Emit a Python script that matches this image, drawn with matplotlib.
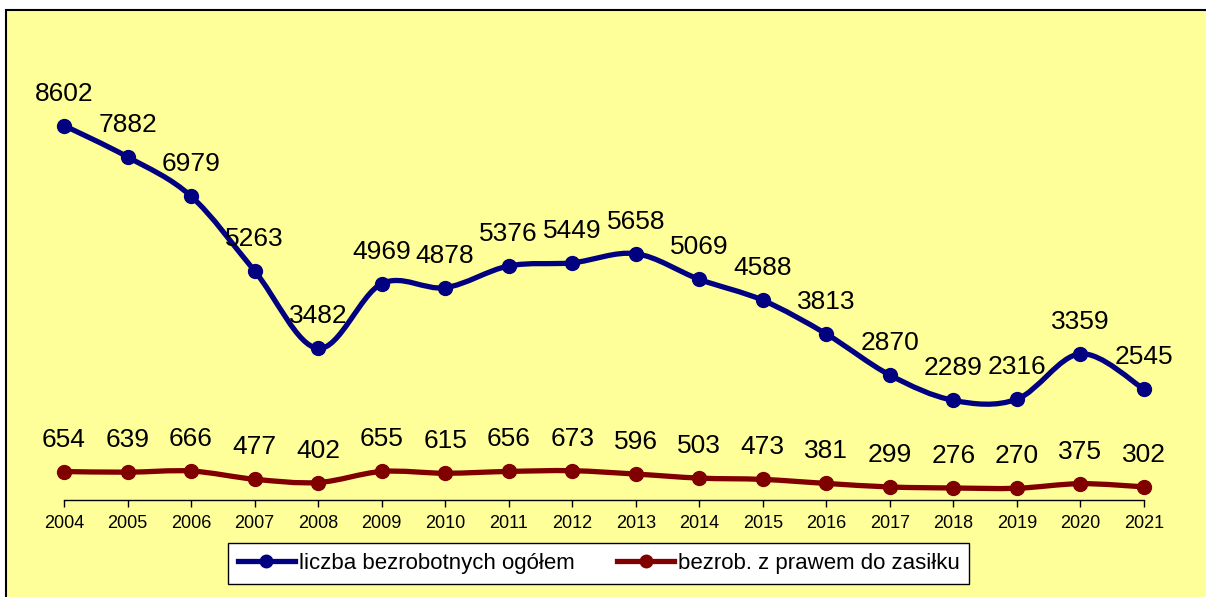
import numpy as np
import matplotlib.pyplot as plt
from matplotlib.path import Path
from matplotlib.patches import PathPatch, Rectangle
from matplotlib.lines import Line2D

plt.rcParams['font.family'] = ['Liberation Sans', 'DejaVu Sans']

# ---------------------------
# Data
# ---------------------------
years = [2004, 2005, 2006, 2007, 2008, 2009, 2010, 2011, 2012,
         2013, 2014, 2015, 2016, 2017, 2018, 2019, 2020, 2021]
total = [8602, 7882, 6979, 5263, 3482, 4969, 4878, 5376, 5449,
         5658, 5069, 4588, 3813, 2870, 2289, 2316, 3359, 2545]
benefit = [654, 639, 666, 477, 402, 655, 615, 656, 673,
           596, 503, 473, 381, 299, 276, 270, 375, 302]

label_total = "liczba bezrobotnych ogółem"
label_benefit = "bezrob. z prawem do zasiłku"

blue = "#000080"
red = "#800000"
bg = "#FFFF99"


def smooth_path(x, y):
    # Catmull-Rom style smoothing (like spreadsheet "smoothed line")
    x = np.asarray(x, float)
    y = np.asarray(y, float)
    n = len(x)
    verts = [(x[0], y[0])]
    codes = [Path.MOVETO]
    for i in range(n - 1):
        p0 = i - 1 if i > 0 else 0
        p3 = i + 2 if i + 2 < n else n - 1
        c1 = (x[i] + (x[i + 1] - x[p0]) / 6, y[i] + (y[i + 1] - y[p0]) / 6)
        c2 = (x[i + 1] - (x[p3] - x[i]) / 6, y[i + 1] - (y[p3] - y[i]) / 6)
        verts += [c1, c2, (x[i + 1], y[i + 1])]
        codes += [Path.CURVE4] * 3
    return Path(verts, codes)


W, H = 1206, 597
fig = plt.figure(figsize=(W / 100, H / 100), dpi=100)
fig.patch.set_facecolor("white")

# yellow chart area with frame
fig.patches.append(Rectangle((6 / W, -0.05), 1.1, (H - 10) / H + 0.05,
                             transform=fig.transFigure, facecolor=bg,
                             edgecolor="black", linewidth=1.5, zorder=-5))

ax_left, ax_right = 64 / W, 1144 / W
ax_bottom = (H - 500) / H
ax_top = (H - 64.7) / H
ax = fig.add_axes([ax_left, ax_bottom, ax_right - ax_left, ax_top - ax_bottom])
ax.set_facecolor("none")

for vals, col in [(total, blue), (benefit, red)]:
    ax.add_patch(PathPatch(smooth_path(years, vals), facecolor="none",
                           edgecolor=col, linewidth=3.8, clip_on=False,
                           capstyle="round", joinstyle="round", zorder=3))
    ax.plot(years, vals, linestyle="none", marker="o", markersize=10,
            color=col, clip_on=False, zorder=4)
    for xv, yv in zip(years, vals):
        ax.annotate(str(yv), (xv, yv), xytext=(0, 32),
                    textcoords="offset pixels", ha="center", va="center",
                    fontsize=19, color="black")

ax.set_xlim(2004, 2021)
ax.set_ylim(0, 10000)
ax.set_xticks(years)
ax.set_xticklabels([str(y) for y in years], fontsize=13)
ax.set_yticks([])
for s in ["top", "right", "left"]:
    ax.spines[s].set_visible(False)
ax.spines["bottom"].set_linewidth(1.0)
ax.tick_params(axis="x", direction="out", length=5, width=1.0, pad=6)

handles = [Line2D([], [], color=blue, linewidth=3.8, marker="o", markersize=9),
           Line2D([], [], color=red, linewidth=3.8, marker="o", markersize=9)]
leg = fig.legend(handles, [label_total, label_benefit], loc="center",
                 bbox_to_anchor=(598.5 / W, 1 - 563 / H), ncol=2,
                 fontsize=16, frameon=True, fancybox=False,
                 handlelength=2.6, handletextpad=0.15, columnspacing=1.9,
                 borderpad=0.45, borderaxespad=0)
leg.get_frame().set_edgecolor("black")
leg.get_frame().set_facecolor("white")
leg.get_frame().set_linewidth(1.0)
leg.get_frame().set_alpha(1)

plt.savefig("out.png", dpi=100)
plt.close()
